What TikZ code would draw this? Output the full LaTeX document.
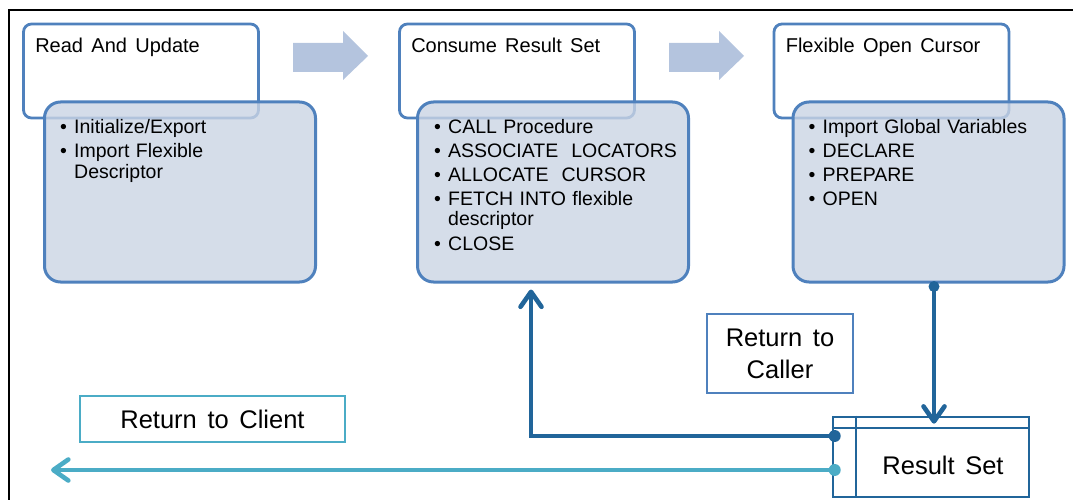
\documentclass[tikz,border=0pt]{standalone}
\usepackage{fontspec}
\setmainfont[WordSpace=1.2]{Liberation Sans}
\newfontfamily\labelfont[WordSpace=1.5]{Liberation Sans}
\usepackage{tikz}
\usetikzlibrary{positioning,calc,arrows.meta}
\definecolor{stageblue}{HTML}{4F81BD}
\definecolor{bodyfill}{HTML}{CAD4E4}
\definecolor{flowfill}{HTML}{B4C4DE}
\definecolor{connblue}{HTML}{21659A}
\definecolor{connteal}{HTML}{4BACC6}

% bullet line with hanging indent
\newcommand{\bul}[1]{\par\hangindent=14pt\hangafter=1\noindent\makebox[14pt][l]{\textbullet}#1}

\tikzset{
  titlebox/.style={draw=stageblue, line width=2.8pt, rounded corners=8pt, fill=white,
                   minimum width=235pt, minimum height=94pt, inner sep=0pt},
  bodybox/.style={draw=stageblue, line width=3pt, rounded corners=16pt, fill=bodyfill,
                  fill opacity=0.8, minimum width=271pt, minimum height=180pt, inner sep=0pt},
  titletext/.style={anchor=base west, inner sep=0pt, font=\labelfont\fontsize{20}{24}\selectfont},
  bodytext/.style={anchor=base west, inner sep=0pt, font=\fontsize{19.5}{20.5}\selectfont},
  labeltext/.style={inner sep=0pt, align=center, font=\labelfont\fontsize{25.5}{32}\selectfont},
  flowarrow/.style={fill=flowfill},
  darkconn/.style={draw=connblue, line width=4.6pt, line cap=round},
  tealconn/.style={draw=connteal, line width=4.6pt, line cap=round},
  barb/.style={-{Straight Barb[length=15pt,width=21pt,round]}},
  frameline/.style={draw=black, line width=1.8pt}
}

\begin{document}
\begin{tikzpicture}[x=1pt, y=-1pt]
  \useasboundingbox (0,0) rectangle (1073,500);
  \draw[frameline] (1073,10) -- (9,10) -- (9,500);

  % stage headers
  \node[titlebox] (t1) at (141,71) {};
  \node[titlebox] (t2) at (517,71) {};
  \node[titlebox] (t3) at (891.5,71) {};
  \node[titletext] (t1l) at ($(t1.north west)+(13,30)$) {Read And Update};
  \node[titletext] (t2l) at ($(t2.north west)+(13,30)$) {Consume Result Set};
  \node[titletext] (t3l) at ($(t3.north west)+(13,30)$) {Flexible Open Cursor};

  % stage bodies
  \node[bodybox] (b1) at (180,192) {};
  \node[bodybox] (b2) at (553,192) {};
  \node[bodybox] (b3) at (928.5,192) {};
  \node[bodytext] (b1l) at ($(b1.north west)+(17,33)$) {\parbox[t]{250pt}{\raggedright\setlength{\parskip}{3.5pt}%
    \bul{Initialize/Export}\bul{Import Flexible\newline Descriptor}}};
  \node[bodytext] (b2l) at ($(b2.north west)+(18,33)$) {\parbox[t]{250pt}{\raggedright\setlength{\parskip}{3.5pt}%
    \bul{CALL Procedure}\bul{ASSOCIATE~~LOCATORS}\bul{ALLOCATE~~CURSOR}%
    \bul{FETCH INTO flexible\newline descriptor}\bul{CLOSE}}};
  \node[bodytext] (b3l) at ($(b3.north west)+(17,33)$) {\parbox[t]{250pt}{\raggedright\setlength{\parskip}{3.5pt}%
    \bul{Import Global Variables}\bul{DECLARE}\bul{PREPARE}\bul{OPEN}}};

  % flow arrows between stages
  \foreach \dx in {0,376}
    \fill[flowarrow, xshift=\dx pt] (293,43) -- (343,43) -- (343,31) -- (368,56)
      -- (343,80) -- (343,72) -- (293,72) -- cycle;

  % labels
  \node[labeltext, draw=stageblue, line width=2.4pt, minimum width=146pt, minimum height=79pt]
    (caller) at (780,353.5) {Return to\\Caller};
  \node[labeltext, draw=connteal, line width=2.4pt, minimum width=265pt, minimum height=46pt]
    (client) at (212.5,419) {Return to Client};

  % result set table
  \node[draw=connblue, line width=2.6pt, minimum width=196pt, minimum height=80pt, inner sep=0pt]
    (rs) at (931,457) {};
  \draw[connblue, line width=2.4pt] ($(rs.north west)+(0,12)$) -- ($(rs.north east)+(0,12)$);
  \draw[connblue, line width=2.4pt] ($(rs.north west)+(24,0)$) -- ($(rs.south west)+(24,0)$);
  \node[labeltext] (rsl) at ($(rs.center)+(12,8)$) {Result Set};

  % connectors
  \coordinate (b3out) at ($(b3.south)+(5.5,3)$);
  \coordinate (b2in) at ($(b2.south)+(-22,6)$);
  \coordinate (rsa) at ($(rs.west)+(3,-21)$);
  \coordinate (rsb) at ($(rs.west)+(3,13)$);
  \coordinate (clientend) at (51,470);
  \draw[darkconn, barb] (b3out) -- ($(b3out |- rs.north)+(0,8)$);
  \draw[darkconn, barb] (rsa) -| (b2in);
  \draw[tealconn, barb] (rsb) -- (rsb -| clientend);
  \fill[connblue] (b3out) circle (5.5pt);
  \fill[connblue] (rsa) circle (6pt);
  \fill[connteal] (rsb) circle (6pt);
\end{tikzpicture}
\end{document}
